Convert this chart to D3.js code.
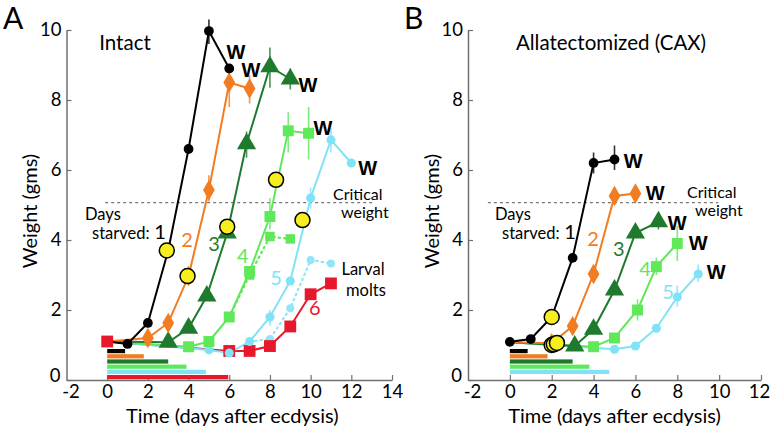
<!DOCTYPE html>
<html><head><meta charset="utf-8">
<script src="https://cdn.jsdelivr.net/npm/d3@7"></script>
<style>body{margin:0;background:#fff}svg{display:block}</style>
</head><body>
<svg id="c" width="770" height="427"></svg>
<script>
// ---------- DATA ----------
const xTicksA = [-2,0,2,4,6,8,10,12,14];
const xTicksB = [-2,0,2,4,6,8,10,12];
const yTicks = [0,2,4,6,8,10];
const criticalWeight = 5.07;

// Panel A (Intact): days and weights per starvation group
const startA = [0, 1.1];
const A_black_days  = [1,2,3,4,5,6];
const A_black_w     = [1.03,1.63,3.7,6.6,9.97,8.9];
const A_orange_days = [2,3,4,5,6,7];
const A_orange_w    = [1.2,1.63,2.97,5.43,8.5,8.33];
const A_dgreen_days = [3,4,4.9,5.9,6.85,8,9];
const A_dgreen_w    = [1.08,1.48,2.4,4.2,6.75,8.95,8.6];
const A_lgreen_days = [4,5,6,7,8,8.9,9.9];
const A_lgreen_w    = [0.95,1.1,1.8,3.1,4.67,7.12,7.05];
const A_cyan_days   = [5,6,7,8,9,10,11,12];
const A_cyan_w      = [0.86,0.77,1.1,1.8,2.83,5.2,6.86,6.2];
const A_red_days    = [0,6,7,8,9,10,11];
const A_red_w       = [1.1,0.83,0.83,0.97,1.53,2.45,2.76];
// dotted branches (larval molts)
const A_lgreenDot_days = [6,7,8,9];
const A_lgreenDot_w    = [1.8,3.0,4.1,4.03];
const A_cyanDot_days   = [7,8,9,10,11];
const A_cyanDot_w      = [1.1,1.17,2.05,3.43,3.33];
// critical-weight (yellow) points
const A_yellow_days = [2.93,3.95,5.9,8.3,9.6];
const A_yellow_w    = [3.7,2.97,4.38,5.72,4.57];
// error bars: [day, low, high]
const A_err_black  = [[5,9.6,10.3]];
const A_err_orange = [[5,5.1,5.85],[6,7.8,8.7],[7,7.9,8.7]];
const A_err_dgreen = [[6.85,6.35,7.1],[8,8.35,9.5],[9,8.3,8.9]];
const A_err_lgreen = [[8,4.3,5.2],[8.9,6.5,7.65],[9.9,6.3,7.8]];
const A_err_cyan   = [[10,4.9,5.5],[11,6.5,7.2],[8,1.55,2.0]];
// starvation bars (days starved)
const A_bar_end = [0.88,1.8,3.0,3.9,4.85,5.95];

// Panel B (Allatectomized)
const startB = [0, 1.08];
const B_black_days  = [0,1,2,3,4,5];
const B_black_w     = [1.09,1.17,1.8,3.49,6.2,6.3];
const B_orange_days = [2,3,4,5,6];
const B_orange_w    = [1.05,1.54,3.03,5.26,5.33];
const B_dgreen_days = [3.1,4,5,6,7.1];
const B_dgreen_w    = [0.97,1.45,2.57,4.2,4.52];
const B_lgreen_days = [4,5,6.1,7,8];
const B_lgreen_w    = [0.95,1.2,2.0,3.24,3.9];
const B_cyan_days   = [5,6,7,8,9];
const B_cyan_w      = [0.88,0.97,1.48,2.37,3.03];
const B_yellow_days = [2,2.0,2.1,2.25];
const B_yellow_w    = [1.8,1.0,1.02,1.06];
const B_err_black  = [[4,5.9,6.5],[5,6.0,6.7]];
const B_err_orange = [[5,5.0,5.5]];
const B_err_dgreen = [[7.1,4.3,4.75]];
const B_err_lgreen = [[6.1,1.7,2.3],[7,3.0,3.5],[8,3.4,4.4]];
const B_err_cyan   = [[8,2.1,2.7],[9,2.8,3.3]];
const B_bar_end = [0.85,1.8,3.0,3.8,4.75];

const groupLabels = ["1","2","3","4","5","6"];
const colors = ["#000000","#f27c22","#1f7a2e","#5fe85a","#80e2f6","#e8182c"];
const symbols = [d3.symbolCircle,d3.symbolDiamond,d3.symbolTriangle,d3.symbolSquare,d3.symbolCircle,d3.symbolSquare];
const symSizes = [75,120,160,120,65,140];

// ---------- DRAW ----------
const svg = d3.select("#c");
const FONT = "Lato, 'Open Sans', sans-serif";

function panel(cfg){
  const x = d3.scaleLinear().domain(cfg.xdom).range(cfg.xrange);
  const y = d3.scaleLinear().domain([0,10]).range([380,30]);
  const g = svg.append("g");

  // axes
  const xa = g.append("g").attr("transform","translate(0,"+y(0)+")")
    .call(d3.axisBottom(x).tickValues(cfg.xticks).tickSizeInner(-5).tickSizeOuter(0).tickPadding(5).tickFormat(d=>String(d)));
  const ya = g.append("g").attr("transform","translate("+x(cfg.xdom[0])+",0)")
    .call(d3.axisLeft(y).tickValues(yTicks).tickSizeInner(-5).tickSizeOuter(0).tickPadding(5));
  [xa,ya].forEach(a=>{
    a.select(".domain").attr("stroke","#707070").attr("stroke-width",1.5);
    a.selectAll(".tick line").attr("stroke","#707070").attr("stroke-width",1.2);
    a.selectAll(".tick text").attr("font-family",FONT).attr("font-size",18.5).attr("fill","#000");
  });
  xa.selectAll(".tick").filter(d=>d===cfg.xdom[1]).select("text").attr("dx",cfg.lastDx||0);
  xa.selectAll(".tick").filter(d=>d===cfg.xdom[0]).select("text").attr("dx",4);
  xa.selectAll(".tick").filter(d=>d===cfg.xdom[0]).select("line").remove();
  ya.selectAll(".tick").filter(d=>d===0).select("text").attr("dy","0.1em").attr("dx",-1);

  // axis titles
  g.append("text").attr("x",(x(cfg.xdom[0])+x(cfg.xdom[1]))/2+cfg.xtitleDx).attr("y",423)
    .attr("text-anchor","middle").attr("font-family",FONT).attr("font-size",20).text("Time (days after ecdysis)");
  g.append("text").attr("transform","translate("+cfg.ytitleX+",211) rotate(-90)")
    .attr("text-anchor","middle").attr("dy","0.35em").attr("font-family",FONT).attr("font-size",20).text("Weight (gms)");

  // panel letter and title
  g.append("text").attr("x",cfg.letterX).attr("y",29).attr("font-family",FONT).attr("font-size",30).text(cfg.letter);
  g.append("text").attr("x",cfg.titleX).attr("y",50).attr("text-anchor","middle").attr("font-family",FONT).attr("font-size",20.5).text(cfg.title);

  // starvation bars
  cfg.bars.forEach((e,i)=>{
    g.append("rect").attr("x",x(0)).attr("y",y(0)-31+i*5.2).attr("width",x(e)-x(0)).attr("height",4.2).attr("fill",colors[i]);
  });

  // critical weight dashed line
  g.append("line").attr("x1",x(cfg.dash[0])).attr("x2",x(cfg.dash[1])).attr("y1",y(criticalWeight)).attr("y2",y(criticalWeight))
    .attr("stroke","#777").attr("stroke-width",1.3).attr("stroke-dasharray","3,3");
  g.append("text").attr("x",cfg.critPos[0]).attr("y",cfg.critPos[1]).attr("font-family",FONT).attr("font-size",16).text("Critical");
  g.append("text").attr("x",cfg.critPos[0]+8).attr("y",cfg.critPos[1]+18).attr("font-family",FONT).attr("font-size",16).text("weight");

  const line = d3.line().x(d=>x(d[0])).y(d=>y(d[1]));

  // dotted branches
  (cfg.dotted||[]).forEach(s=>{
    const pts = s.days.map((d,i)=>[d,s.w[i]]);
    g.append("path").attr("d",line(pts)).attr("fill","none").attr("stroke",s.color)
      .attr("stroke-width",2.2).attr("stroke-dasharray","1.5,4").attr("stroke-linecap","round");
    g.selectAll(null).data(pts.slice(1)).enter().append("path")
      .attr("d",d3.symbol().type(s.sym).size(s.size)())
      .attr("transform",d=>"translate("+x(d[0])+","+y(d[1])+")").attr("fill",s.color);
  });

  // series lines (each starts from the day-0 weight)
  const order = cfg.series.map((s,i)=>i).reverse();
  order.forEach(i=>{
    const s = cfg.series[i];
    let pts = s.days.map((d,j)=>[d,s.w[j]]);
    if (s.days[0] !== 0) pts = [cfg.start].concat(pts);
    g.append("path").attr("d",line(pts)).attr("fill","none").attr("stroke",colors[i]).attr("stroke-width",2);
  });
  // error bars
  cfg.series.forEach((s,i)=>{
    s.err.forEach(e=>{
      g.append("line").attr("x1",x(e[0])).attr("x2",x(e[0])).attr("y1",y(e[1])).attr("y2",y(e[2]))
        .attr("stroke",colors[i]).attr("stroke-width",1.6).attr("opacity",0.8);
    });
  });
  // markers
  order.forEach(i=>{
    const s = cfg.series[i];
    const pts = s.days.map((d,j)=>[d,s.w[j]]);
    g.selectAll(null).data(pts).enter().append("path")
      .attr("d",d3.symbol().type(symbols[i]).size(symSizes[i])())
      .attr("transform",d=>"translate("+x(d[0])+","+y(d[1])+")")
      .attr("fill",colors[i]);
  });
  // yellow critical points
  g.selectAll(null).data(cfg.yellow).enter().append("circle")
    .attr("cx",d=>x(d[0])).attr("cy",d=>y(d[1])).attr("r",7.5)
    .attr("fill","#f6ee1e").attr("stroke","#000").attr("stroke-width",1.5);

  // W labels
  cfg.wLabels.forEach(p=>{
    g.append("text").attr("x",x(p[0])).attr("y",y(p[1])).attr("dy","0.35em").attr("text-anchor","middle")
      .attr("font-family","'Liberation Sans', Arial, sans-serif").attr("font-weight","bold").attr("font-size",20).text("W");
  });
  // group labels
  g.append("text").attr("x",cfg.daysPos[0]).attr("y",cfg.daysPos[1]).attr("font-family",FONT).attr("font-size",16.5).text("Days");
  g.append("text").attr("x",cfg.daysPos[0]+7).attr("y",cfg.daysPos[1]+19).attr("font-family",FONT).attr("font-size",16.5).text("starved:");
  g.append("text").attr("x",cfg.daysPos[0]+75).attr("y",cfg.daysPos[1]+19).attr("text-anchor","middle").attr("font-family",FONT).attr("font-size",20).text(groupLabels[0]);
  cfg.numPos.forEach((p,k)=>{
    g.append("text").attr("x",x(p[0])).attr("y",y(p[1])).attr("dy","0.35em").attr("text-anchor","middle")
      .attr("font-family",FONT).attr("font-size",20).attr("fill",colors[k+1]).text(groupLabels[k+1]);
  });
  (cfg.extra||[]).forEach(t=>{
    g.append("text").attr("x",t[0]).attr("y",t[1]).attr("text-anchor","middle").attr("font-family",FONT).attr("font-size",16.5).text(t[2]);
  });
}

panel({
  xdom:[-2,14], xrange:[66.5,392], xticks:xTicksA, xtitleDx:3, ytitleX:30,
  letter:"A", letterX:3, title:"Intact", titleX:125,
  bars:A_bar_end, dash:[-0.1,13.05], critPos:[333,200],
  start:startA,
  series:[
    {days:A_black_days,w:A_black_w,err:A_err_black},
    {days:A_orange_days,w:A_orange_w,err:A_err_orange},
    {days:A_dgreen_days,w:A_dgreen_w,err:A_err_dgreen},
    {days:A_lgreen_days,w:A_lgreen_w,err:A_err_lgreen},
    {days:A_cyan_days,w:A_cyan_w,err:A_err_cyan},
    {days:A_red_days,w:A_red_w,err:[]}
  ],
  dotted:[
    {days:A_lgreenDot_days,w:A_lgreenDot_w,color:"#5fe85a",sym:d3.symbolSquare,size:90},
    {days:A_cyanDot_days,w:A_cyanDot_w,color:"#90e6f7",sym:d3.symbolCircle,size:50}
  ],
  yellow:A_yellow_days.map((d,i)=>[d,A_yellow_w[i]]),
  wLabels:[[6.33,9.37],[7.07,8.86],[9.87,8.43],[10.6,7.2],[12.8,6.06]],
  daysPos:[85,220],
  numPos:[[3.92,4.0],[5.25,3.89],[6.67,3.54],[8.3,2.91],[10.2,2.06]],
  extra:[[363,275,"Larval"],[366,296,"molts"]]
});

panel({
  xdom:[-2,12], xrange:[468,761], xticks:xTicksB, xtitleDx:0, ytitleX:432,
  letter:"B", letterX:404, title:"Allatectomized (CAX)", titleX:611,
  bars:B_bar_end, dash:[-1.05,9.95], critPos:[687,198], lastDx:-2,
  start:startB,
  series:[
    {days:B_black_days,w:B_black_w,err:B_err_black},
    {days:B_orange_days,w:B_orange_w,err:B_err_orange},
    {days:B_dgreen_days,w:B_dgreen_w,err:B_err_dgreen},
    {days:B_lgreen_days,w:B_lgreen_w,err:B_err_lgreen},
    {days:B_cyan_days,w:B_cyan_w,err:B_err_cyan}
  ],
  yellow:B_yellow_days.map((d,i)=>[d,B_yellow_w[i]]),
  wLabels:[[5.89,6.26],[6.94,5.34],[7.99,4.49],[9.0,3.91],[9.86,3.09]],
  daysPos:[495,220],
  numPos:[[3.97,4.03],[5.21,3.74],[6.46,3.17],[7.56,2.51]]
});
</script>
</body></html>
